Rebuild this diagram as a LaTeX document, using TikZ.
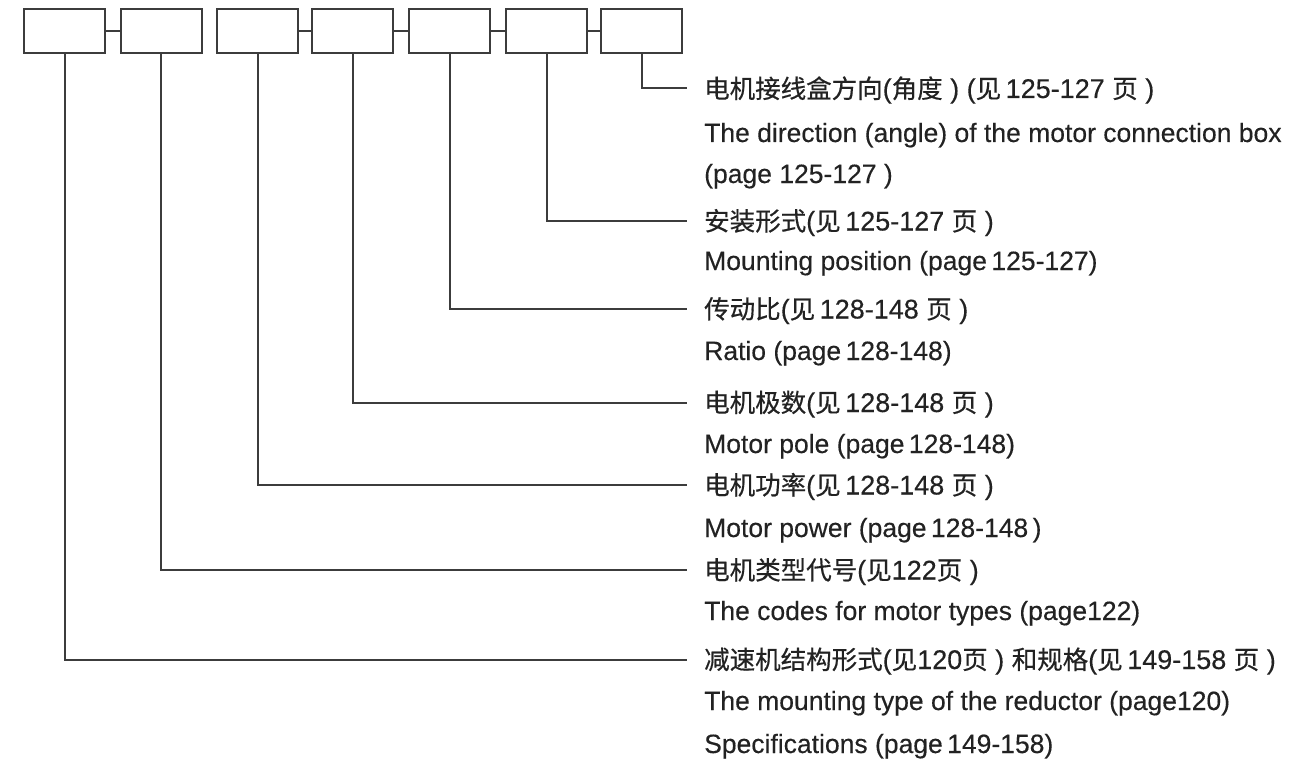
\documentclass[tikz,border=0pt]{standalone}
\usepackage{fontspec}
\setmainfont{Liberation Sans}[FakeBold=0.3]
\newfontfamily\cjkfont{Noto Sans CJK SC}[FakeBold=0.5]
\newcommand{\zhtext}[1]{{\cjkfont\fontsize{25.5}{30}\selectfont #1}}
\definecolor{inkline}{RGB}{60,60,60}
\definecolor{inktext}{RGB}{34,34,34}
\begin{document}
\begin{tikzpicture}[x=1pt,y=-1pt,
  codebox/.style={draw=inkline,line width=2pt,minimum width=81pt,minimum height=44pt,inner sep=0pt},
  link/.style={draw=inkline,line width=2pt},
  lbl/.style={anchor=base west,inner sep=0pt,text=inktext,font=\fontsize{26.5}{30}\selectfont},
  zhl/.style={lbl,font=\fontsize{27}{30}\selectfont}]
\useasboundingbox (0,0) rectangle (1305,762);
% boxes
\node[codebox] (b1) at (64.5,31) {};
\node[codebox] (b2) at (161,31) {};
\node[codebox] (b3) at (257.5,31) {};
\node[codebox] (b4) at (352.5,31) {};
\node[codebox] (b5) at (449.5,31) {};
\node[codebox] (b6) at (546.5,31) {};
\node[codebox] (b7) at (641.5,31) {};
\draw[link] (b1.east) -- (b2.west);
\draw[link] (b3.east) -- (b4.west);
\draw[link] (b4.east) -- (b5.west);
\draw[link] (b5.east) -- (b6.west);
\draw[link] (b6.east) -- (b7.west);
% line ends
\coordinate (e7) at (687,88.5);
\coordinate (e6) at (687,221);
\coordinate (e5) at (687,309);
\coordinate (e4) at (687,402.5);
\coordinate (e3) at (687,485);
\coordinate (e2) at (687,570);
\coordinate (e1) at (687,659.5);
\draw[link] (b7.south) |- (e7);
\draw[link] (b6.south) |- (e6);
\draw[link] (b5.south) |- (e5);
\draw[link] (b4.south) |- (e4);
\draw[link] (b3.south) |- (e3);
\draw[link] (b2.south) |- (e2);
\draw[link] (b1.south) |- (e1);
% labels
\node[zhl] (t1) at (704,98) {\zhtext{电机接线盒方向}(\zhtext{角度} ) (\zhtext{见}\,125-127 \zhtext{页} )};
\node[lbl] (t2) at (704,142) {The direction (angle) of the motor connection box};
\node[lbl] (t3) at (704,183) {(page 125-127 )};
\node[zhl] (t4) at (704,230.5) {\zhtext{安装形式}(\zhtext{见}\,125-127 \zhtext{页} )};
\node[lbl] (t5) at (704,270) {Mounting position (page\,125-127)};
\node[zhl] (t6) at (704,318.5) {\zhtext{传动比}(\zhtext{见}\,128-148 \zhtext{页} )};
\node[lbl] (t7) at (704,360) {Ratio (page\,128-148)};
\node[zhl] (t8) at (704,412) {\zhtext{电机极数}(\zhtext{见}\,128-148 \zhtext{页} )};
\node[lbl] (t9) at (704,453) {Motor pole (page\,128-148)};
\node[zhl] (t10) at (704,494.5) {\zhtext{电机功率}(\zhtext{见}\,128-148 \zhtext{页} )};
\node[lbl] (t11) at (704,537) {Motor power (page\,128-148\,)};
\node[zhl] (t12) at (704,579.5) {\zhtext{电机类型代号}(\zhtext{见}122\zhtext{页} )};
\node[lbl] (t13) at (704,620) {The codes for motor types (page122)};
\node[zhl] (t14) at (704,669) {\zhtext{减速机结构形式}(\zhtext{见}120\zhtext{页} ) \zhtext{和规格}(\zhtext{见}\,149-158 \zhtext{页} )};
\node[lbl] (t15) at (704,710) {The mounting type of the reductor (page120)};
\node[lbl] (t16) at (704,753) {Specifications (page\,149-158)};
\end{tikzpicture}
\end{document}
